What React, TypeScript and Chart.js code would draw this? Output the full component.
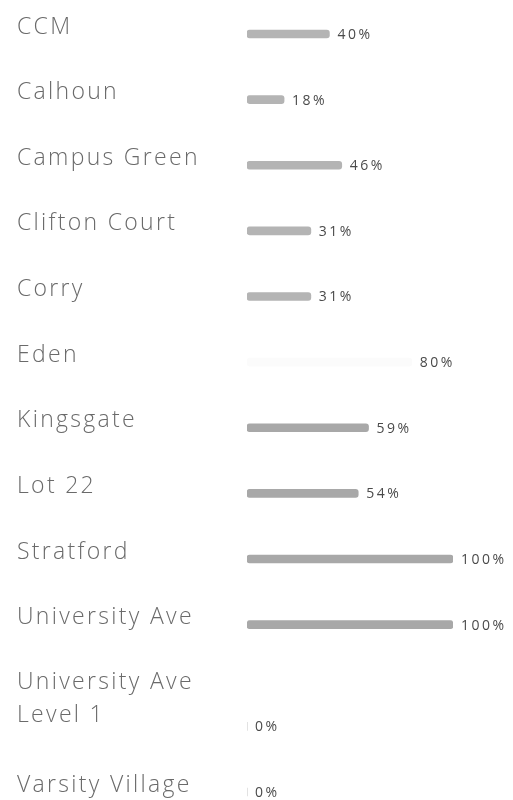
import React, { useEffect, useRef } from "react";
import { Chart, registerables } from "chart.js";

Chart.register(...registerables);

// ---- data ----
const categories: (string | string[])[] = [
  "CCM",
  "Calhoun",
  "Campus Green",
  "Clifton Court",
  "Corry",
  "Eden",
  "Kingsgate",
  "Lot 22",
  "Stratford",
  "University Ave",
  ["University Ave", "Level 1"],
  "Varsity Village",
];
const values = [40, 18, 46, 31, 31, 80, 59, 54, 100, 100, 0, 0];
const valueLabels = values.map((v) => `${v}%`);
const barColors = [
  "#b4b4b4",
  "#b4b4b4",
  "#b4b4b4",
  "#b4b4b4",
  "#b4b4b4",
  "#fbfbfb",
  "#a8a8a8",
  "#a8a8a8",
  "#a8a8a8",
  "#a8a8a8",
  "#a8a8a8",
  "#a8a8a8",
];

// layout helpers derived from the labels (multi-line rows take more room)
const EXTRA_PER_LINE = 0.55;
const LABEL_SHIFT_PER_LINE = 0.31;
const lineCounts = categories.map((c) => (Array.isArray(c) ? c.length : 1));
const rowPos: number[] = (() => {
  let acc = 0;
  return lineCounts.map((n, i) => {
    acc += (n - 1) * EXTRA_PER_LINE;
    return i + acc;
  });
})();

const FONT = '"Open Sans", "Noto Sans", sans-serif';

export default function App() {
  const canvasRef = useRef<HTMLCanvasElement | null>(null);

  useEffect(() => {
    document.body.style.overflow = "hidden";
    const canvas = canvasRef.current;
    if (!canvas) return;

    const letterSpacingPlugin = {
      id: "letterSpacing",
      beforeDraw(chart: any) {
        (chart.ctx as any).letterSpacing = "2.3px";
      },
    };

    const valueLabelPlugin = {
      id: "valueLabels",
      afterDatasetsDraw(chart: any) {
        const ctx = chart.ctx as CanvasRenderingContext2D;
        const meta = chart.getDatasetMeta(0);
        ctx.save();
        (ctx as any).letterSpacing = "2.5px";
        ctx.font = `400 14px ${FONT}`;
        ctx.fillStyle = "#4a4a4a";
        ctx.textAlign = "left";
        ctx.textBaseline = "middle";
        meta.data.forEach((bar: any, i: number) => {
          ctx.fillText(valueLabels[i], bar.x + 8, bar.y + 1);
        });
        ctx.restore();
      },
    };

    const chart = new Chart(canvas, {
      type: "bar",
      data: {
        datasets: [
          {
            data: values.map((v, i) => ({ x: v, y: rowPos[i] })) as any,
            backgroundColor: barColors,
            borderWidth: 0,
            borderRadius: 3,
            borderSkipped: false,
            barThickness: 8,
          },
        ],
      },
      options: {
        indexAxis: "y",
        animation: false,
        responsive: true,
        maintainAspectRatio: false,
        layout: { padding: { left: 9, right: 52, top: 0, bottom: 0 } },
        plugins: {
          legend: { display: false },
          tooltip: { enabled: false },
        },
        scales: {
          x: {
            type: "linear",
            min: 0,
            max: 100,
            display: false,
          },
          y: {
            type: "linear",
            reverse: true,
            offset: false,
            min: -0.396,
            max: 11.672,
            grid: { display: false },
            border: { display: false },
            afterBuildTicks: (scale: any) => {
              scale.ticks = rowPos.map((p, i) => ({
                value: p - (lineCounts[i] - 1) * LABEL_SHIFT_PER_LINE,
              }));
            },
            afterFit: (scale: any) => {
              scale.width = 230;
              scale.paddingTop = 0;
              scale.paddingBottom = 0;
            },
            ticks: {
              autoSkip: false,
              crossAlign: "far",
              labelOffset: -7,
              color: "#6a6a6a",
              font: { family: FONT, size: 23, weight: "300", lineHeight: 1.45 },
              callback: (_v: any, i: number) => categories[i] as any,
            },
          },
        },
      },
      plugins: [letterSpacingPlugin, valueLabelPlugin],
    });

    return () => chart.destroy();
  }, []);

  return (
    <div style={{ position: "relative", width: "100%", height: 792 }}>
      <canvas ref={canvasRef} />
    </div>
  );
}
